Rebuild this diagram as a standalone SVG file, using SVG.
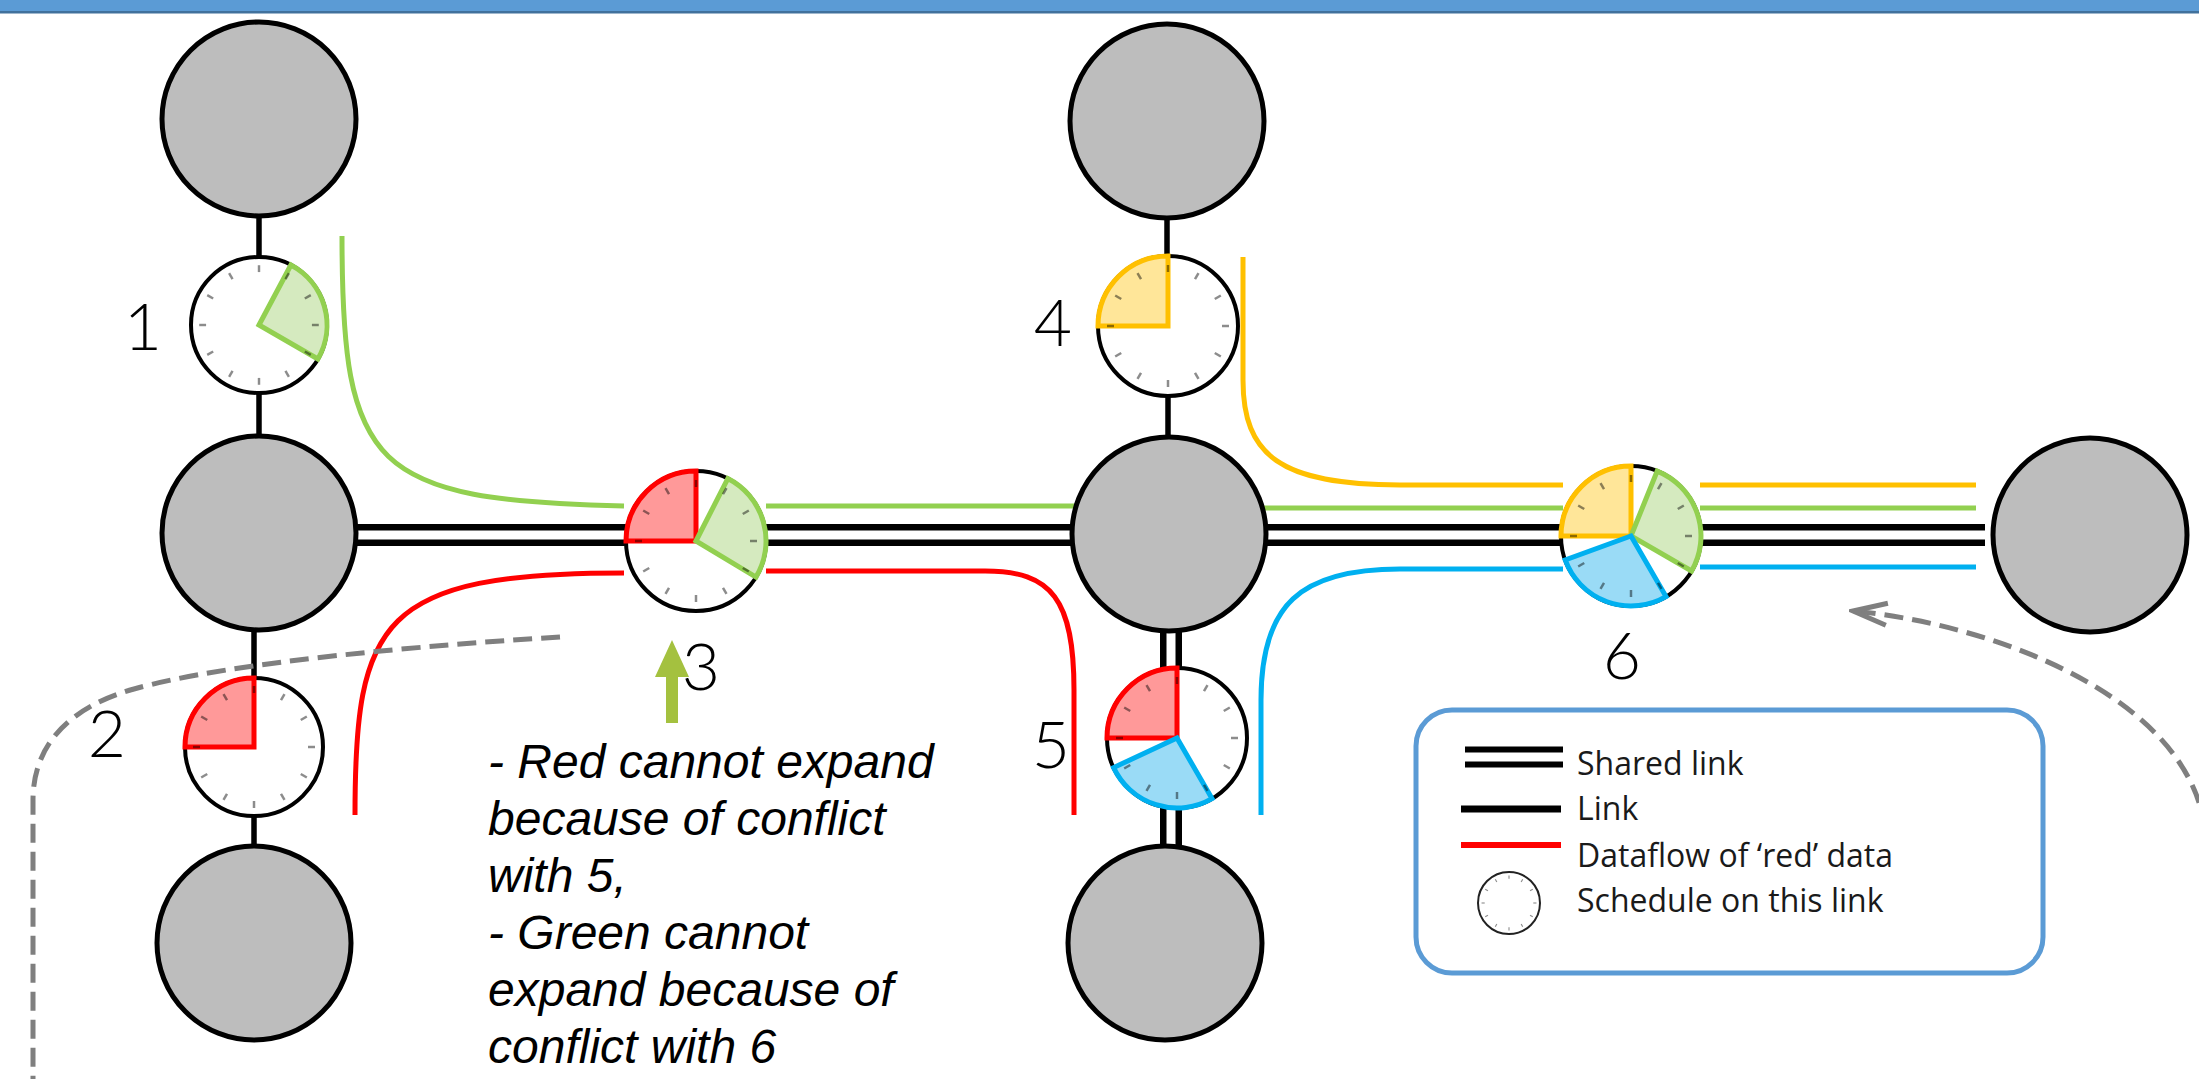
<svg xmlns="http://www.w3.org/2000/svg" xmlns:xlink="http://www.w3.org/1999/xlink" width="2199" height="1079" viewBox="0 0 2199 1079">
<style>
.node{fill:#BDBDBD;stroke:#000;stroke-width:5}
.clock{fill:#fff;stroke:#000;stroke-width:4}
.link{stroke:#000;stroke-width:5.5;fill:none}
.shared-outer{stroke:#000;stroke-width:22;fill:none}
.shared-inner{stroke:#fff;stroke-width:9;fill:none}
.flow{fill:none;stroke-width:5;stroke-linecap:butt}
.g{stroke:#92D050}.r{stroke:#FF0000}.y{stroke:#FFC000}.b{stroke:#00B0F0}
.sec{stroke-width:5;stroke-linejoin:miter}
.sg{fill:#D5EABF;stroke:#92D050}
.sr{fill:#FF9999;stroke:#FF0000}
.sy{fill:#FFE699;stroke:#FFC000}
.sb{fill:#9ADBF6;stroke:#00B0F0}
.dash{fill:none;stroke:#7F7F7F;stroke-width:5;stroke-dasharray:19 9}
.num{font-family:Lato,"Open Sans","DejaVu Sans",sans-serif;font-weight:300;font-size:66px;fill:#000;text-anchor:middle}
.note{font-family:"Liberation Sans",Arial,sans-serif;font-style:italic;font-size:48px;fill:#000}
.leg{font-family:"Open Sans","Noto Sans",sans-serif;font-size:32px;fill:#1a1a1a}
</style>
<defs>
<g id="ticks" stroke="#000" stroke-opacity="0.45" stroke-width="2.5">
<line x1="0" y1="-61" x2="0" y2="-54"/>
<line x1="0" y1="-61" x2="0" y2="-54" transform="rotate(30)"/>
<line x1="0" y1="-61" x2="0" y2="-54" transform="rotate(60)"/>
<line x1="0" y1="-61" x2="0" y2="-54" transform="rotate(90)"/>
<line x1="0" y1="-61" x2="0" y2="-54" transform="rotate(120)"/>
<line x1="0" y1="-61" x2="0" y2="-54" transform="rotate(150)"/>
<line x1="0" y1="-61" x2="0" y2="-54" transform="rotate(180)"/>
<line x1="0" y1="-61" x2="0" y2="-54" transform="rotate(210)"/>
<line x1="0" y1="-61" x2="0" y2="-54" transform="rotate(240)"/>
<line x1="0" y1="-61" x2="0" y2="-54" transform="rotate(270)"/>
<line x1="0" y1="-61" x2="0" y2="-54" transform="rotate(300)"/>
<line x1="0" y1="-61" x2="0" y2="-54" transform="rotate(330)"/>
</g>
<marker id="openArrow" viewBox="-40 -15 44 30" refX="0" refY="0" markerWidth="44" markerHeight="30" markerUnits="userSpaceOnUse" orient="auto">
<path d="M-34,-11 L0,0 L-34,11" fill="none" stroke="#7F7F7F" stroke-width="5"/>
</marker>
</defs>
<rect x="0" y="0" width="2199" height="1079" fill="#fff"/>
<rect x="0" y="0" width="2199" height="11" fill="#5B9BD5"/>
<rect x="0" y="11" width="2199" height="2.5" fill="#41719C"/>

<g id="connectors">
<!-- links -->
<line class="shared-outer" x1="300" y1="535" x2="1985" y2="535"/>
<line class="shared-inner" x1="300" y1="535" x2="1985" y2="535"/>
<line class="link" x1="259" y1="200" x2="259" y2="270"/>
<line class="link" x1="259" y1="380" x2="259" y2="445"/>
<line class="link" x1="254" y1="620" x2="254" y2="690"/>
<line class="link" x1="254" y1="805" x2="254" y2="855"/>
<line class="link" x1="1167" y1="200" x2="1167" y2="270"/>
<line class="link" x1="1168" y1="380" x2="1168" y2="445"/>
<line class="shared-outer" x1="1171" y1="620" x2="1171" y2="685"/>
<line class="shared-inner" x1="1171" y1="620" x2="1171" y2="685"/>
<line class="shared-outer" x1="1171" y1="795" x2="1171" y2="855"/>
<line class="shared-inner" x1="1171" y1="795" x2="1171" y2="855"/>
<!-- data flows -->
<path class="flow g" d="M342,236 C342,470 372,500 624,506"/>
<path class="flow g" d="M766,506 H1080"/>
<path class="flow g" d="M1260,508 H1563"/>
<path class="flow g" d="M1700,508 H1976"/>
<path class="flow r" d="M355,815 C355,620 380,573 624,573"/>
<path class="flow r" d="M766,571 H985 C1052,571 1074,600 1074,690 V815"/>
<path class="flow y" d="M1243,257 V380 C1243,455 1280,485 1400,485 H1563"/>
<path class="flow y" d="M1700,485 H1976"/>
<path class="flow b" d="M1261,815 V700 C1261,605 1300,569 1400,569 H1563"/>
<path class="flow b" d="M1700,567 H1976"/>
<!-- dashed annotation arrows -->
<path class="dash" d="M560,637 C430,645 230,662 134,689 C76,705 33,740 33,800 V1085"/>
<path class="dash" d="M2205,830 C2190,700 2000,625 1853,611" marker-end="url(#openArrow)"/>
<!-- green pointer arrow -->
<path id="pointer" d="M672,640 L689,677 L678,677 L678,723 L666,723 L666,677 L655,677 Z" fill="#A4C13F"/>
</g>

<g id="node-top-left"><circle class="node" cx="259" cy="119" r="97"/></g>
<g id="node-mid-left"><circle class="node" cx="259" cy="533" r="97"/></g>
<g id="node-bottom-left"><circle class="node" cx="254" cy="943" r="97"/></g>
<g id="node-top-mid"><circle class="node" cx="1167" cy="121" r="97"/></g>
<g id="node-center"><circle class="node" cx="1169" cy="534" r="97"/></g>
<g id="node-bottom-mid"><circle class="node" cx="1165" cy="943" r="97"/></g>
<g id="node-right"><circle class="node" cx="2090" cy="535" r="97"/></g>

<g id="clock1">
<circle class="clock" cx="259" cy="325" r="68"/>
<path class="sec sg" d="M259,325 L290.9,265 A68,68 0 0 1 317.9,359 Z"/>
<use xlink:href="#ticks" href="#ticks" transform="translate(259,325) scale(0.98)"/>
<text class="num" x="143" y="350">1</text>
</g>
<g id="clock2">
<circle class="clock" cx="254" cy="747" r="69"/>
<path class="sec sr" d="M254,747 L185,747 A69,69 0 0 1 254,678 Z"/>
<use xlink:href="#ticks" href="#ticks" transform="translate(254,747)"/>
<text class="num" x="107" y="757">2</text>
</g>
<g id="clock3">
<circle class="clock" cx="696" cy="541" r="70"/>
<path class="sec sr" d="M696,541 L626,541 A70,70 0 0 1 696,471 Z"/>
<path class="sec sg" d="M696,541 L727.8,478.6 A70,70 0 0 1 756,577.1 Z"/>
<use xlink:href="#ticks" href="#ticks" transform="translate(696,541)"/>
<text class="num" x="701" y="690">3</text>
</g>
<g id="clock4">
<circle class="clock" cx="1168" cy="326" r="70"/>
<path class="sec sy" d="M1168,326 L1098,326 A70,70 0 0 1 1168,256 Z"/>
<use xlink:href="#ticks" href="#ticks" transform="translate(1168,326)"/>
<text class="num" x="1053" y="346">4</text>
</g>
<g id="clock5">
<circle class="clock" cx="1177" cy="738" r="70"/>
<path class="sec sr" d="M1177,738 L1107,738 A70,70 0 0 1 1177,668 Z"/>
<path class="sec sb" d="M1177,738 L1212,798.6 A70,70 0 0 1 1113.6,767.6 Z"/>
<use xlink:href="#ticks" href="#ticks" transform="translate(1177,738)"/>
<text class="num" x="1051" y="768">5</text>
</g>
<g id="clock6">
<circle class="clock" cx="1631" cy="536" r="70"/>
<path class="sec sy" d="M1631,536 L1561,536 A70,70 0 0 1 1631,466 Z"/>
<path class="sec sg" d="M1631,536 L1657.2,471.1 A70,70 0 0 1 1691.6,571 Z"/>
<path class="sec sb" d="M1631,536 L1666,596.6 A70,70 0 0 1 1565.2,559.9 Z"/>
<use xlink:href="#ticks" href="#ticks" transform="translate(1631,536)"/>
<text class="num" x="1622" y="679">6</text>
</g>

<g id="note">
<text class="note" x="488" y="778">- Red cannot expand</text>
<text class="note" x="488" y="835">because of conflict</text>
<text class="note" x="488" y="892">with 5,</text>
<text class="note" x="488" y="949">- Green cannot</text>
<text class="note" x="488" y="1006">expand because of</text>
<text class="note" x="488" y="1063">conflict with 6</text>
</g>

<g id="legend">
<rect x="1416" y="710" width="627" height="263" rx="36" ry="36" fill="#fff" stroke="#5B9BD5" stroke-width="5"/>
<line class="shared-outer" x1="1465" y1="757" x2="1563" y2="757" style="stroke-width:21"/>
<line class="shared-inner" x1="1463" y1="757" x2="1565" y2="757" style="stroke-width:9"/>
<line x1="1461" y1="809" x2="1561" y2="809" stroke="#000" stroke-width="7"/>
<line x1="1461" y1="845" x2="1561" y2="845" stroke="#FF0000" stroke-width="6"/>
<circle cx="1509" cy="903" r="31" fill="#fff" stroke="#222" stroke-width="2"/>
<use xlink:href="#ticks" href="#ticks" transform="translate(1509,903) scale(0.45)"/>
<text class="leg" x="1577" y="775">Shared link</text>
<text class="leg" x="1577" y="820">Link</text>
<text class="leg" x="1577" y="867">Dataflow of ‘red’ data</text>
<text class="leg" x="1577" y="912">Schedule on this link</text>
</g>
</svg>
